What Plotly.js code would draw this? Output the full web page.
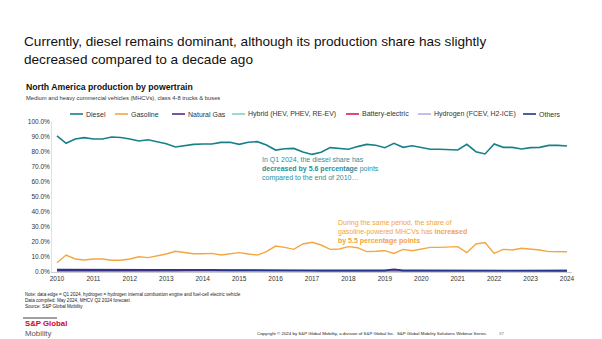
<!DOCTYPE html>
<html><head><meta charset="utf-8">
<script src="https://cdn.plot.ly/plotly-3.0.1.min.js"></script>
<style>html,body{margin:0;padding:0;background:#fff;}#chart{width:602px;height:339px;}</style>
</head><body><div id="chart"></div>
<script>
// Quarterly data, Q1 2010 .. Q1 2024 (share of production, %)
const startYear = 2010;
const yearTicks = [2010,2011,2012,2013,2014,2015,2016,2017,2018,2019,2020,2021,2022,2023,2024];
const yTicks = [0,10,20,30,40,50,60,70,80,90,100];
const seriesNames = ["Diesel","Gasoline","Natural Gas","Hybrid (HEV, PHEV, RE-EV)","Battery-electric","Hydrogen (FCEV, H2-ICE)","Others"];
const diesel = [90.7,85.8,88.7,89.6, 88.7,88.7,90.0,89.7, 88.7,87.3,88.2,86.9, 85.5,83.3,84.2,85.1, 85.3,85.3,86.4,86.5, 85.1,86.5,86.9,84.7, 81.3,82.2,82.4,80.0, 78.4,79.8,82.9,82.4, 81.8,83.6,85.1,84.5, 82.9,85.8,83.1,84.2, 82.9,81.8,81.8,81.8, 81.3,85.1,80.2,78.7, 85.3,83.1,83.1,82.0, 82.9,83.1,84.4,84.4, 84.0];
const gasoline = [6.2,11.3,8.7,8.0, 8.7,8.7,7.8,7.8, 8.7,10.2,9.6,10.7, 12.0,13.8,13.1,12.2, 12.2,12.4,11.3,12.0, 12.9,12.0,11.3,13.6, 17.3,16.4,15.1,18.7, 19.8,18.0,15.1,15.3, 16.9,16.2,13.6,13.8, 14.2,12.4,15.1,14.2, 15.1,16.4,16.4,16.7, 16.9,12.9,18.7,19.6, 12.4,15.1,14.7,15.8, 15.3,14.7,13.6,13.3, 13.5];
const naturalGas = [0.8,0.8,0.7,0.7, 0.8,0.8,0.9,0.9, 1.0,1.0,1.1,1.2, 1.3,1.4,1.3,1.4, 1.5,1.4,1.2,1.1, 1.0,0.9,0.9,0.8, 0.8,0.8,0.9,0.8, 0.8,0.7,0.8,0.8, 0.7,0.7,0.6,0.6, 0.6,0.7,0.6,0.6, 0.6,0.6,0.6,0.7, 0.7,0.7,0.7,0.8, 0.9,1.0,1.1,1.0, 0.8,0.6,0.5,0.5, 0.5];
const hybrid = [0.2,0.2,0.2,0.2, 0.2,0.2,0.2,0.2, 0.2,0.2,0.2,0.2, 0.2,0.2,0.2,0.2, 0.2,0.2,0.2,0.2, 0.2,0.2,0.2,0.2, 0.3,0.3,0.3,0.3, 0.3,0.3,0.3,0.3, 0.3,0.3,0.3,0.3, 0.3,0.3,0.3,0.3, 0.3,0.3,0.3,0.3, 0.3,0.3,0.3,0.3, 0.3,0.3,0.3,0.3, 0.3,0.3,0.3,0.3, 0.3];
const batteryElectric = [0.1,0.1,0.1,0.1, 0.1,0.1,0.1,0.1, 0.1,0.1,0.1,0.2, 0.3,0.5,0.8,1.0, 1.1,0.9,0.6,0.4, 0.3,0.3,0.2,0.2, 0.2,0.2,0.2,0.2, 0.2,0.2,0.2,0.2, 0.2,0.2,0.2,0.2, 0.2,0.2,0.3,0.3, 0.3,0.3,0.3,0.3, 0.4,0.4,0.5,0.6, 0.7,0.8,0.9,1.0, 1.0,0.9,1.0,1.1, 1.2];
const hydrogen = [0.0,0.0,0.0,0.0, 0.0,0.0,0.0,0.0, 0.0,0.0,0.0,0.0, 0.0,0.0,0.0,0.0, 0.0,0.0,0.0,0.0, 0.0,0.0,0.0,0.0, 0.0,0.0,0.0,0.0, 0.0,0.0,0.0,0.0, 0.0,0.0,0.0,0.0, 0.0,0.0,0.0,0.0, 0.0,0.0,0.0,0.0, 0.0,0.0,0.0,0.0, 0.0,0.0,0.0,0.0, 0.1,0.1,0.1,0.1, 0.1];
const others = [1.6,1.6,1.5,1.5, 1.5,1.4,1.4,1.4, 1.3,1.3,1.4,1.4, 1.5,1.5,1.4,1.3, 1.3,1.2,1.2,1.2, 1.1,1.1,1.2,1.1, 1.1,1.2,1.2,1.1, 1.1,1.0,1.1,1.1, 1.0,1.0,1.0,1.0, 1.0,1.8,1.0,1.0, 1.0,0.9,0.9,0.9, 0.9,0.9,0.9,1.0, 1.0,1.0,0.9,0.9, 0.9,0.8,0.8,0.8, 0.8];

const seriesData = [diesel, gasoline, naturalGas, hybrid, batteryElectric, hydrogen, others];
const colors = ["#17808A","#F4A640","#5B2A8C","#7FD4C8","#D21E5A","#B8ADE6","#22368F"];
const widths = [1.6,1.4,1.4,1.2,1.4,1.2,1.8];
const xq = diesel.map((_, i) => startYear + i / 4);

const W = 602, H = 339, L = 52, R = 30, T = 122, B = 67;
const plotW = W - L - R, plotH = H - T - B;
const px = p => (p - L) / plotW;
const py = p => (H - B - p) / plotH;
const FONT = "Liberation Sans, Arial, sans-serif";

const traces = seriesData.map((d, k) => ({
  x: xq, y: d, type: "scatter", mode: "lines", name: seriesNames[k],
  line: {color: colors[k], width: widths[k]}, showlegend: false, hoverinfo: "skip"
}));

// custom legend (short line samples)
const legX = [70,115,172,232,346,418,523];
const legY = 114;
const shapes = [];
const annotations = [];
seriesNames.forEach((n, k) => {
  shapes.push({type: "line", xref: "paper", yref: "paper", x0: px(legX[k]), x1: px(legX[k] + 13), y0: py(legY), y1: py(legY), line: {color: colors[k], width: 1.6}});
  annotations.push({xref: "paper", yref: "paper", x: px(legX[k] + 13.5), y: py(legY), xanchor: "left", yanchor: "middle", text: n, showarrow: false, font: {family: FONT, size: 7, color: "#333"}});
});

const addText = (x, y, text, size, color, extra) => annotations.push(Object.assign({xref: "paper", yref: "paper", x: px(x), y: py(y), xanchor: "left", yanchor: "middle", text: text, showarrow: false, align: "left", font: {family: FONT, size: size, color: color}}, extra || {}));

addText(24, 86.5, "<b>North America production by powertrain</b>", 8.7, "#111");
addText(24, 98.5, "Medium and heavy commercial vehicles (MHCVs), class 4-8 trucks & buses", 5.8, "#333");
addText(260, 169, "In Q1 2024, the diesel share has<br><b>decreased by 5.6 percentage</b> points<br>compared to the end of 2010…", 7, "#2A8F99");
addText(336, 232, "During the same period, the share of<br>gasoline-powered MHCVs has <b>increased</b><br><b>by 5.5 percentage points</b>", 7, "#F2A443");
addText(23, 300.5, "Note: data edge = Q1 2024, hydrogen = hydrogen internal combustion engine and fuel-cell electric vehicle<br>Data compiled: May 2024, MHCV Q2 2024 forecast<br>Source: S&P Global Mobility", 4.6, "#222", {});
addText(22.5, 323.5, "<b>S&P Global</b>", 7.8, "#D6002A");
addText(22.5, 333, "Mobility", 7.8, "#555");
addText(255, 333, "Copyright © 2024 by S&P Global Mobility, a division of S&P Global Inc.  S&P Global Mobility Solutions Webinar Series.", 4.4, "#222");
addText(497, 333, "37", 4.4, "#777");
shapes.push({type: "line", xref: "paper", yref: "paper", x0: px(23), x1: px(57), y0: py(318), y1: py(318), line: {color: "#111", width: 0.8}});

const layout = {
  width: W, height: H,
  margin: {l: L, r: R, t: T, b: B, pad: 0},
  paper_bgcolor: "#fff", plot_bgcolor: "#fff",
  title: {text: "Currently, diesel remains dominant, although its production share has slightly<br>decreased compared to a decade ago", x: 24 / W, xanchor: "left", xref: "container", y: 1 - 46 / H, yanchor: "top", yref: "container", font: {family: FONT, size: 13.6, color: "#111"}},
  xaxis: {range: [2009.863, 2024.137], tickvals: yearTicks, ticktext: yearTicks.map(String), showgrid: false, zeroline: false, showline: true, linecolor: "#bfbfbf", linewidth: 0.8, ticks: "", tickfont: {family: FONT, size: 6.5, color: "#333"}},
  yaxis: {range: [0, 100], tickvals: yTicks, ticktext: yTicks.map(v => v.toFixed(1) + "%"), showgrid: false, zeroline: false, showline: true, linecolor: "#d9d9d9", linewidth: 0.8, ticks: "", tickfont: {family: FONT, size: 6.5, color: "#333"}},
  shapes: shapes, annotations: annotations, showlegend: false
};

Plotly.newPlot("chart", traces, layout, {staticPlot: true, displayModeBar: false});
</script></body></html>
